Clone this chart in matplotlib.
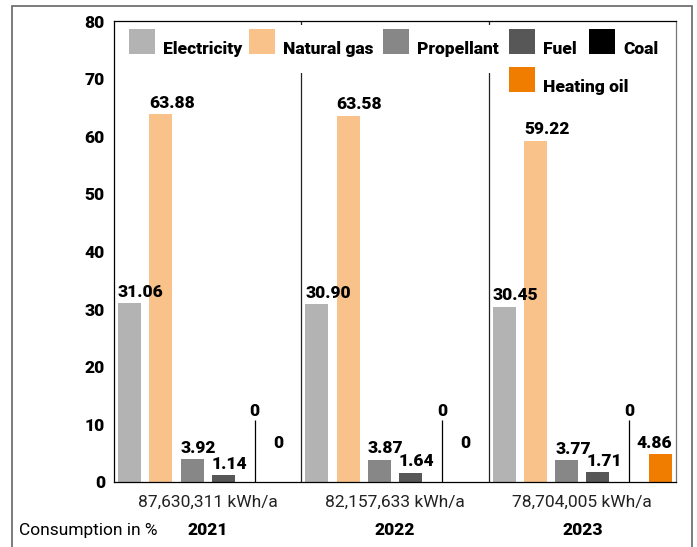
import matplotlib
matplotlib.use("Agg")
import matplotlib.pyplot as plt
from matplotlib.patches import Rectangle
from matplotlib.transforms import blended_transform_factory

plt.rcParams["font.family"] = ["Roboto", "DejaVu Sans"]

years = ["2021", "2022", "2023"]
totals = ["87,630,311 kWh/a", "82,157,633 kWh/a", "78,704,005 kWh/a"]
sources = ["Electricity", "Natural gas", "Propellant", "Fuel", "Coal", "Heating oil"]
colors = ["#b3b3b3", "#f8c28a", "#878787", "#575757", "#000000", "#f07d00"]

# share of consumption in %, one list per energy source
electricity = [31.06, 30.90, 30.45]
natural_gas = [63.88, 63.58, 59.22]
propellant = [3.92, 3.87, 3.77]
fuel = [1.14, 1.64, 1.71]
coal = [0, 0, 0]
heating_oil = [0, 0, 4.86]
series = [electricity, natural_gas, propellant, fuel, coal, heating_oil]

W, H = 697, 547
BOLD = "heavy"


def fx(px):
	return px / W


def fy(py):
	return 1 - py / H


fig = plt.figure(figsize=(W / 100, H / 100), dpi=100)
ax = fig.add_axes([fx(114), fy(482), fx(676) - fx(114), fy(21) - fy(482)])

n = len(sources)
bw = 0.74
ax.set_xlim(0, n * len(years))
ax.set_ylim(0, 80)

label_kw = dict(textcoords="offset points", fontsize=12.5, fontweight=BOLD, va="baseline")

for g in range(len(years)):
	for i, vals in enumerate(series):
		v = vals[g]
		xc = g * n + i + 0.5
		ax.bar(xc, v, width=bw, color=colors[i], zorder=2)
		txt = "0" if v == 0 else "%.2f" % v
		if sources[i] == "Coal":
			# leader line for the empty coal bar
			ax.vlines(xc, 0, 10.8, color="black", lw=0.9, zorder=3)
			ax.annotate(txt, (xc, 10.8), xytext=(0, 3), ha="center", **label_kw)
		elif sources[i] == "Heating oil":
			if v == 0:
				ax.annotate(txt, (xc - 0.25, 4.86), xytext=(0, 4.5), ha="center", **label_kw)
			else:
				ax.annotate(txt, (xc + bw / 2, v), xytext=(0, 4.5), ha="right", **label_kw)
		else:
			ax.annotate(txt, (xc - bw / 2, v), xytext=(0, 4.5), ha="left", **label_kw)

# separators between the years
for g in range(1, len(years)):
	ax.axvline(g * n, color="#222222", lw=0.9, zorder=1)

ax.set_xticks([])
ax.set_yticks(range(0, 81, 10))
ax.tick_params(axis="y", length=0, pad=6.5, labelsize=12.5)
for t in ax.get_yticklabels():
	t.set_fontweight(BOLD)

for side in ["left", "bottom", "top"]:
	ax.spines[side].set_color("black")
	ax.spines[side].set_linewidth(0.9)
ax.spines["right"].set_color("#777777")
ax.spines["right"].set_linewidth(0.9)
ax.spines["bottom"].set_zorder(4)

# totals and years below the groups
bt = blended_transform_factory(ax.transData, fig.transFigure)
for g in range(len(years)):
	xc = g * n + n / 2
	ax.text(xc, fy(502), totals[g], transform=bt, ha="center", va="center",
		fontsize=12.5, color="#222222")
	ax.text(xc, fy(530), years[g], transform=bt, ha="center", va="center",
		fontsize=12.5, fontweight=BOLD)
fig.text(fx(19), fy(530), "Consumption in %", ha="left", va="center", fontsize=12.5)

# legend, laid out by hand as a flowing row
fig.add_artist(Rectangle((fx(120), fy(73)), fx(670) - fx(120), fy(25) - fy(73),
	transform=fig.transFigure, facecolor="white", edgecolor="none", zorder=5))
legend_pos = [(129, 54), (249, 54), (383, 54), (509, 54), (589, 54), (509, 92)]
for i, (px, py) in enumerate(legend_pos):
	fig.add_artist(Rectangle((fx(px), fy(py)), fx(26), fy(0) - fy(25),
		transform=fig.transFigure, facecolor=colors[i], edgecolor="none", zorder=6))
	fig.text(fx(px + 34), fy(py), sources[i], ha="left", va="baseline",
		fontsize=12.5, fontweight=BOLD, zorder=6)

# outer frame
fig.add_artist(Rectangle((fx(12), fy(600)), fx(692) - fx(12), fy(6) - fy(600),
	transform=fig.transFigure, facecolor="none", edgecolor="#666666", lw=1.2, zorder=7))

fig.savefig("out.png", dpi=100)
